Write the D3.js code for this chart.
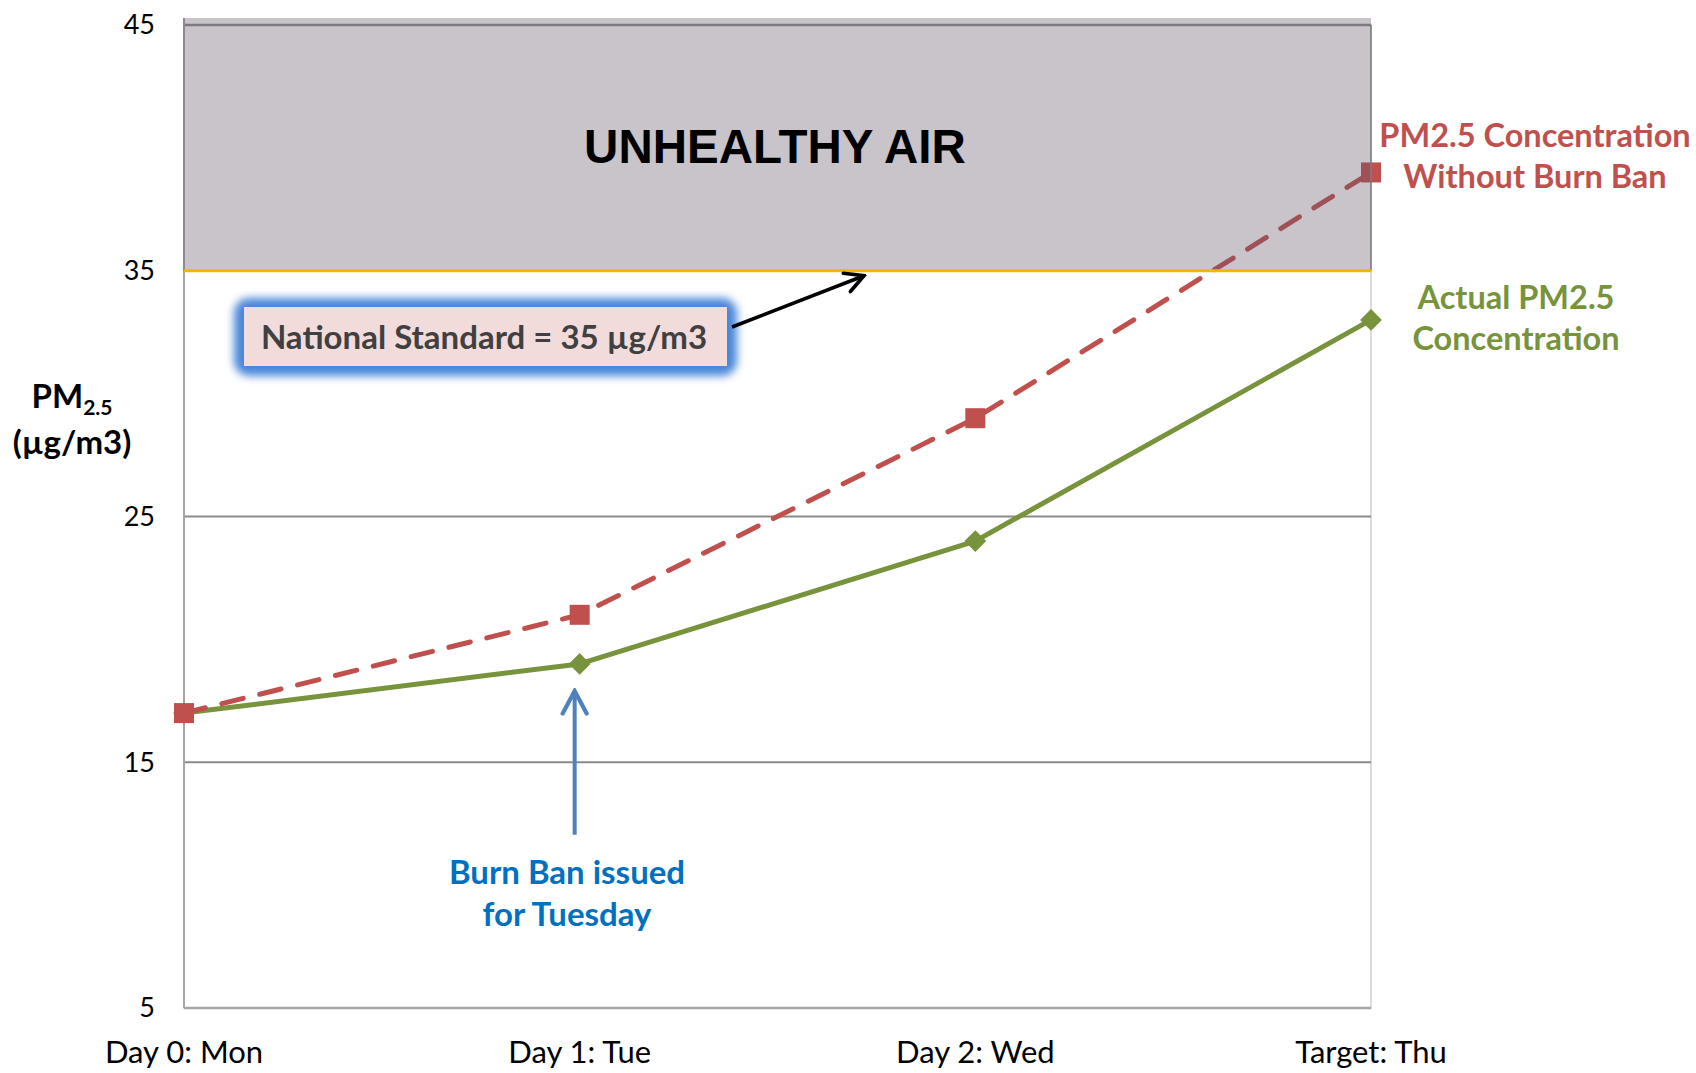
<!DOCTYPE html>
<html>
<head>
<meta charset="utf-8">
<script src="https://cdn.jsdelivr.net/npm/d3@7"></script>
<style>
  html, body { margin: 0; padding: 0; background: #fff; }
  svg { display: block; }
  text { font-family: Lato, "Open Sans", sans-serif; }
</style>
</head>
<body>
<svg id="chart" width="1696" height="1073"></svg>
<script>
// ---- data ----
const categories = ["Day 0: Mon", "Day 1: Tue", "Day 2: Wed", "Target: Thu"];
const withoutBan = [17, 21, 29, 39];
const actual = [17, 19, 24, 33];
const yTicks = [5, 15, 25, 35, 45];
const standard = 35;
const yMax = 45;

(function () {
const svg = d3.select("#chart");
const pLeft = 184, pRight = 1371, pTop = 25, pBottom = 1008;

const x = d3.scalePoint().domain(categories).range([pLeft, pRight]).padding(0);
const y = d3.scaleLinear().domain([5, 45]).range([pBottom, pTop]);

const defs = svg.append("defs");
defs.append("marker").attr("id", "arrBlack").attr("viewBox", "0 0 10 10")
  .attr("refX", 9).attr("refY", 5).attr("markerWidth", 7).attr("markerHeight", 7)
  .attr("markerUnits", "strokeWidth").attr("orient", "auto")
  .append("path").attr("d", "M1.5,1 L9,5 L1.5,9").attr("fill", "none")
  .attr("stroke", "#000").attr("stroke-width", 1.5).attr("stroke-linecap", "round");
defs.append("marker").attr("id", "arrBlue").attr("viewBox", "0 0 10 10")
  .attr("refX", 9).attr("refY", 5).attr("markerWidth", 7.5).attr("markerHeight", 7.5)
  .attr("markerUnits", "strokeWidth").attr("orient", "auto")
  .append("path").attr("d", "M1.5,1 L9,5 L1.5,9").attr("fill", "none")
  .attr("stroke", "#4f81bd").attr("stroke-width", 1.4).attr("stroke-linecap", "round");
const glow = defs.append("filter").attr("id", "glow").attr("x", "-20%").attr("y", "-60%")
  .attr("width", "140%").attr("height", "220%");
glow.append("feGaussianBlur").attr("stdDeviation", 4);

// plot border (light)
svg.append("rect").attr("x", pLeft).attr("y", pTop).attr("width", pRight - pLeft)
  .attr("height", pBottom - pTop).attr("fill", "#fff")
  .attr("stroke", "#d0d0d0").attr("stroke-width", 1.5);

// gridlines
svg.append("g").selectAll("line").data(yTicks.filter(d => d !== 5 && d !== standard))
  .join("line")
  .attr("x1", pLeft).attr("x2", pRight)
  .attr("y1", d => y(d)).attr("y2", d => y(d))
  .attr("stroke", "#8a8a8a").attr("stroke-width", 2);

// axes lines
svg.append("line").attr("x1", pLeft).attr("x2", pLeft).attr("y1", pTop).attr("y2", pBottom)
  .attr("stroke", "#a6a6a6").attr("stroke-width", 2);
svg.append("line").attr("x1", pLeft).attr("x2", pRight).attr("y1", pBottom).attr("y2", pBottom)
  .attr("stroke", "#a6a6a6").attr("stroke-width", 2.5);

// y tick labels
svg.append("g").selectAll("text").data(yTicks).join("text")
  .attr("x", 155).attr("y", d => y(d)).attr("dy", "0.35em")
  .attr("text-anchor", "end").attr("font-size", 27).attr("fill", "#000")
  .text(d => d);

// x tick labels
svg.append("g").selectAll("text").data(categories).join("text")
  .attr("x", d => x(d)).attr("y", 1063)
  .attr("text-anchor", "middle").attr("font-size", 31).attr("fill", "#000")
  .text(d => d);

// y axis title
const yt = svg.append("text").attr("x", 72).attr("y", 408).attr("text-anchor", "middle")
  .attr("font-size", 33).attr("font-weight", "bold").attr("fill", "#000");
yt.append("tspan").text("PM");
yt.append("tspan").attr("font-size", 21).attr("dy", 7).text("2.5");
svg.append("text").attr("x", 72).attr("y", 454).attr("text-anchor", "middle")
  .attr("font-size", 33).attr("font-weight", "bold").attr("fill", "#000")
  .text("(µg/m3)");

// series lines
const line = d3.line().x((d, i) => x(categories[i])).y(d => y(d));
svg.append("path").datum(actual).attr("d", line).attr("fill", "none")
  .attr("stroke", "#77933c").attr("stroke-width", 5).attr("stroke-linejoin", "round");
svg.append("g").selectAll("path").data(actual).join("path")
  .attr("d", d3.symbol(d3.symbolDiamond2, 300))
  .attr("transform", (d, i) => `translate(${x(categories[i])},${y(d)})`)
  .attr("fill", "#77933c");

svg.append("path").datum(withoutBan).attr("d", line).attr("fill", "none")
  .attr("stroke", "#c0504d").attr("stroke-width", 5)
  .attr("stroke-dasharray", "22,17").attr("stroke-linecap", "round");
svg.append("g").selectAll("rect").data(withoutBan).join("rect")
  .attr("x", (d, i) => x(categories[i]) - 10).attr("y", d => y(d) - 10)
  .attr("width", 20).attr("height", 20).attr("fill", "#c0504d");

// unhealthy overlay
svg.append("rect").attr("x", pLeft).attr("y", y(yMax) - 7).attr("width", pRight - pLeft)
  .attr("height", y(standard) - y(yMax) + 7)
  .attr("fill", "rgb(98,86,104)").attr("fill-opacity", 0.35);
svg.append("line").attr("x1", pLeft).attr("x2", pRight).attr("y1", y(yMax)).attr("y2", y(yMax))
  .attr("stroke", "#7f7a80").attr("stroke-width", 2.5);
svg.append("line").attr("x1", pRight).attr("x2", pRight).attr("y1", y(yMax)).attr("y2", y(standard))
  .attr("stroke", "#7f7a80").attr("stroke-width", 1.5);
svg.append("line").attr("x1", pLeft).attr("x2", pLeft).attr("y1", y(yMax) - 7).attr("y2", y(standard))
  .attr("stroke", "#8f8a90").attr("stroke-width", 2);
svg.append("line").attr("x1", pLeft).attr("x2", pRight).attr("y1", y(standard)).attr("y2", y(standard))
  .attr("stroke", "#f2b705").attr("stroke-width", 3);

svg.append("text").attr("x", 775).attr("y", y(40.1)).attr("dy", "0.36em")
  .style("font-family", "'Liberation Sans', Arial, sans-serif")
  .attr("text-anchor", "middle")
  .attr("font-size", 47.5).attr("font-weight", "bold").attr("fill", "#000")
  .text("UNHEALTHY AIR");

// national standard box
svg.append("rect").attr("x", 234).attr("y", 298).attr("width", 503).attr("height", 78)
  .attr("rx", 15).attr("fill", "#4a86d9").attr("filter", "url(#glow)");
svg.append("rect").attr("x", 244).attr("y", 307).attr("width", 483).attr("height", 59)
  .attr("fill", "#f2dcdb");
svg.append("text").attr("x", 484).attr("y", 337).attr("dy", "0.35em")
  .attr("text-anchor", "middle").attr("font-size", 33).attr("font-weight", "bold")
  .attr("fill", "#404040").text("National Standard = 35 µg/m3");
svg.append("line").attr("x1", 732).attr("y1", 327).attr("x2", 864).attr("y2", y(standard) + 5)
  .attr("stroke", "#000").attr("stroke-width", 3.5).attr("marker-end", "url(#arrBlack)");

// series labels
svg.append("g").selectAll("text").data(["PM2.5 Concentration", "Without Burn Ban"]).join("text")
  .attr("x", 1535).attr("y", (d, i) => 136 + i * 41).attr("dy", "0.35em")
  .attr("text-anchor", "middle").attr("font-size", 32.5).attr("font-weight", "bold")
  .attr("fill", "#c0504d").text(d => d);
svg.append("g").selectAll("text").data(["Actual PM2.5", "Concentration"]).join("text")
  .attr("x", 1516).attr("y", (d, i) => 298 + i * 41).attr("dy", "0.35em")
  .attr("text-anchor", "middle").attr("font-size", 32.5).attr("font-weight", "bold")
  .attr("fill", "#77933c").text(d => d);

// burn ban annotation
const bx = x("Day 1: Tue") - 5;
svg.append("line").attr("x1", bx).attr("x2", bx).attr("y1", y(12.05)).attr("y2", y(17.9))
  .attr("stroke", "#4f81bd").attr("stroke-width", 4).attr("marker-end", "url(#arrBlue)");
svg.append("g").selectAll("text").data(["Burn Ban issued", "for Tuesday"]).join("text")
  .attr("x", 567).attr("y", (d, i) => 872 + i * 42).attr("dy", "0.35em")
  .attr("text-anchor", "middle").attr("font-size", 33).attr("font-weight", "bold")
  .attr("fill", "#0070c0").text(d => d);
})();
</script>
</body>
</html>
